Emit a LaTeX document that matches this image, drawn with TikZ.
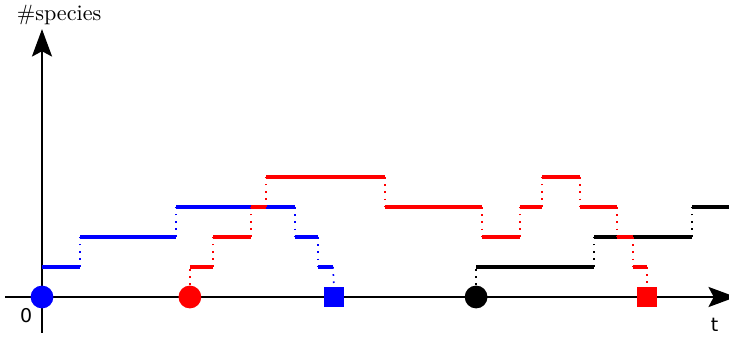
\documentclass[tikz,border=0pt]{standalone}
\usepackage{amsmath}
\usepackage{fontspec}
\newfontfamily\ejefont{DejaVu Sans}
\usetikzlibrary{arrows.meta}

\begin{document}
\begin{tikzpicture}[x=0.5cm,y=0.5cm,
		eje/.style={line width=1pt,-{Stealth[length=13pt,width=9.5pt,inset=2.5pt]}},
		nivel/.style={line width=1.7pt},
		salto/.style={line width=0.8pt,dash pattern=on 0.8pt off 2.6pt},
		ini/.style={circle,fill,inner sep=0pt,minimum size=0.38cm},
		fin/.style={rectangle,fill,inner sep=0pt,minimum size=0.34cm}]
		\useasboundingbox (-1.4,-1.367) rectangle (22.9,9.9);
		
		% Ejes
		\draw[eje] (-1.23,0) -- (23.13,0);
		\draw[eje] (0,-1.2) -- (0,8.93);
		\node (n) at (0.57,9.4) {\fontsize{10.5}{12}\selectfont\#species};
		\node (cero) at (-0.53,-0.62) {\fontsize{9}{10}\ejefont 0};
		\node (t) at (22.42,-0.92) {\fontsize{9}{10}\ejefont t};
		
		% Inicio y fin de cada especie
		\node[ini,blue] (bi) at (0,0) {};
		\node[fin,blue] (bf) at (9.73,0) {};
		\node[ini,red] (ri) at (4.93,0) {};
		\node[fin,red] (rf) at (20.17,0) {};
		\node[ini,black] (ki) at (14.47,0) {};
		
		% Especie azul
		\begin{scope}[blue]
			\foreach \a/\b/\l [remember=\l as \lp (initially 1)] in {0/1.27/1,1.27/4.47/2,4.47/8.43/3,8.43/9.2/2,9.2/9.7/1}
			{\draw[salto] (\a,\lp) -- (\a,\l); \draw[nivel] (\a,\l) -- (\b,\l);}
			\draw[salto] (9.7,1) -- (bf.north);
		\end{scope}
		
		% Especie negra
		\begin{scope}[black]
			\draw[salto] (ki.north) -- (14.47,1);
			\foreach \a/\b/\l [remember=\l as \lp (initially 1)] in {14.47/18.4/1,18.4/21.67/2,21.67/22.9/3}
			{\draw[salto] (\a,\lp) -- (\a,\l); \draw[nivel] (\a,\l) -- (\b,\l);}
		\end{scope}
		
		% Especie roja
		\begin{scope}[red]
			\draw[salto] (ri.north) -- (4.93,1);
			\foreach \a/\b/\l [remember=\l as \lp (initially 1)] in {4.93/5.7/1,5.7/6.97/2,6.97/7.47/3,7.47/11.43/4,11.43/14.67/3,14.67/15.93/2,15.93/16.67/3,16.67/17.93/4,17.93/19.17/3,19.17/19.7/2,19.7/20.17/1}
			{\draw[salto] (\a,\lp) -- (\a,\l); \draw[nivel] (\a,\l) -- (\b,\l);}
			\draw[salto] (20.17,1) -- (rf.north);
		\end{scope}
	\end{tikzpicture}
\end{document}
